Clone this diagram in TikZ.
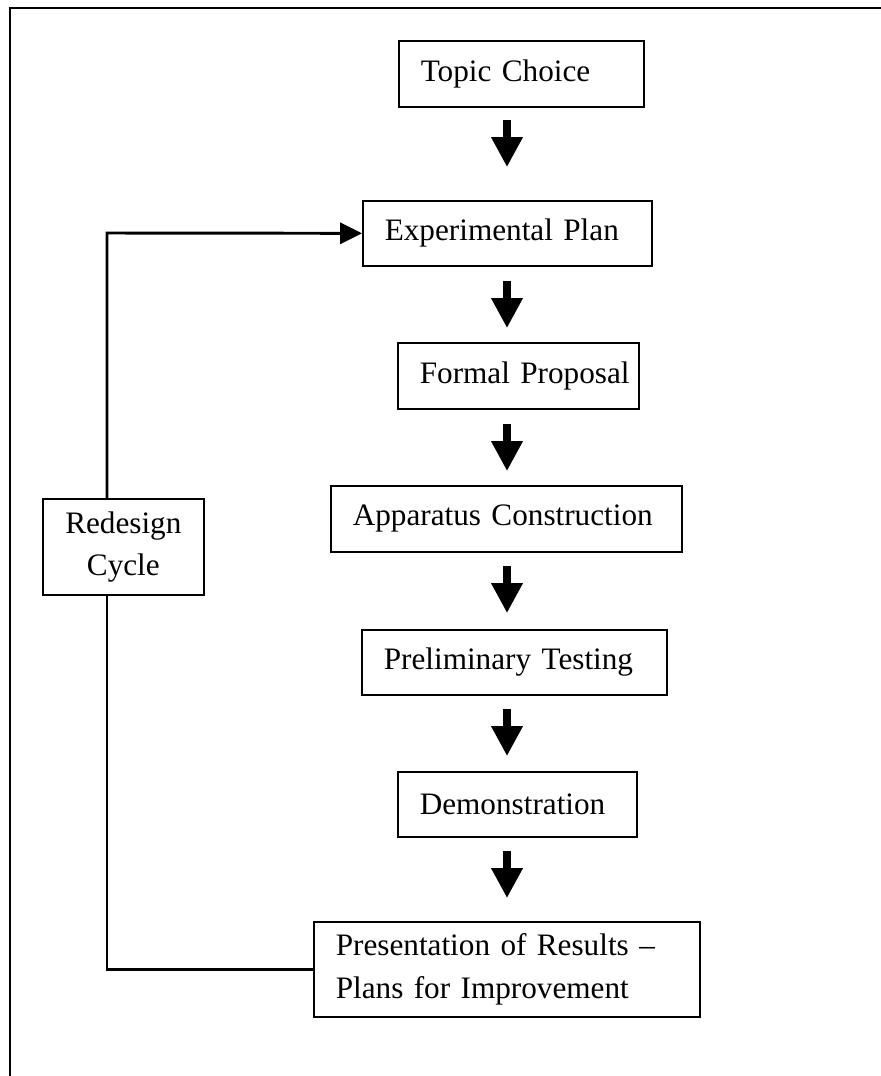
\documentclass[tikz,border=0pt]{standalone}
\usepackage{fontspec}
\setmainfont{Liberation Serif}[WordSpace=0.8]
\usetikzlibrary{arrows.meta}

\begin{document}
\begin{tikzpicture}[x=0.025cm, y=-0.025cm,
        stage/.style={draw, line width=1.2pt, anchor=north west, align=left,
            inner xsep=15.6pt, inner ysep=2pt, font=\fontsize{22.2}{30}\selectfont},
        down/.style={line width=5pt, -{Triangle[width=21.3pt, length=21.3pt]}},
        loopline/.style={line width=2.1pt}]
        \useasboundingbox (0,0) rectangle (880,1076);

        % page frame
        \draw[line width=1.4pt] (10,1076) -- (10,8) -- (890,8);

        \node[stage, text width=143pt, minimum height=46.9pt] (S1) at (398,40) {Topic Choice};
        \node[stage, text width=174.3pt, minimum height=46.2pt] (S2) at (362,200) {Experimental Plan};
        \node[stage, text width=140.1pt, minimum height=46.9pt] (S3) at (397,342) {\mbox{Formal Proposal}};
        \node[stage, text width=218.4pt, minimum height=46.9pt] (S4) at (330,485) {Apparatus Construction};
        \node[stage, text width=185.7pt, minimum height=46.2pt] (S5) at (361,629) {Preliminary Testing};
        \node[stage, text width=138.7pt, minimum height=46.2pt] (S6) at (397,771) {Demonstration};
        \node[stage, text width=243.3pt, minimum height=67.6pt] (S7) at (313,921) {Presentation of Results --\\Plans for Improvement};

        \node[stage, align=center, inner xsep=5pt, text width=104.5pt, minimum height=68.3pt] (R1) at (42,498) {Redesign\\Cycle};

        % block arrows between the stages
        \foreach \i/\y in {1/120, 2/281, 3/424, 4/566, 5/709, 6/851} {
            \coordinate (T\i) at (507,\y);
            \coordinate (H\i) at (507,\y+47);
            \draw[down] (T\i) -- (H\i);
        }

        % redesign loop
        \coordinate (C1) at (107,233);
        \draw[loopline] (C1 |- R1.south) |- (S7.west);
        \draw[loopline, -{Triangle[width=15pt, length=15.6pt]}] (C1 |- R1.north) -- (C1) -- (S2.west);
    \end{tikzpicture}
\end{document}
